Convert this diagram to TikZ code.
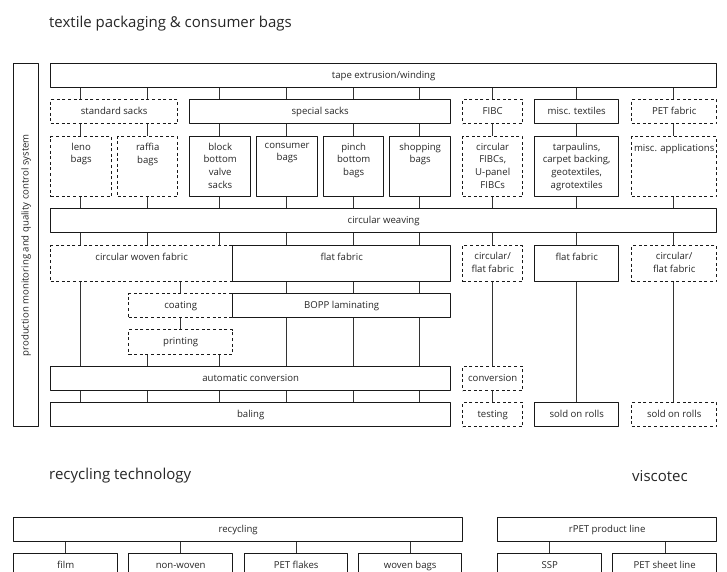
\documentclass[tikz,border=0pt]{standalone}
\usepackage{fontspec}
\setmainfont{Open Sans}
\begin{document}
\begin{tikzpicture}[x=1pt,y=-1pt, line join=round,
	sbox/.style={draw, line width=1.35pt, black!90},
	dbox/.style={draw, line width=1.35pt, black!90, dash pattern=on 3pt off 2.6pt},
	bx/.style 2 args={minimum width=#1, minimum height=#2, anchor=north west, inner sep=0pt},
	txt/.style={anchor=north, inner sep=0pt, yshift=-6.6pt, align=center, text=black!85, font=\fontsize{9.6}{12.9}\selectfont, execute at begin node=\strut},
	link/.style={line width=1pt, black!80},
	head/.style={anchor=west, inner sep=0pt, text=black!85, font=\fontsize{15}{18}\selectfont}]
	\useasboundingbox (0,0) rectangle (727,571);
	\clip (0,0) rectangle (727,571);
	% headings
	\node[head] (ttlA) at (49,24) {textile packaging \& consumer bags};
	\node[head] (ttlB) at (49,476) {recycling technology};
	\node[head] (ttlC) at (632,476) {viscotec};
	% columns of the connectors
	\foreach \n/\x in {1/80,2/147,3/219,4/286,5/353,6/419,7/492,8/576,9/673,10/180}
		\coordinate (c\n) at (\x,0);
	\foreach \n/\x in {1/65,2/180,3/296,4/410,5/549,6/665}
		\coordinate (r\n) at (\x,0);
	% side bar
	\node[sbox, bx={25}{363}] (side) at (13,63) {};
	\node[rotate=90, inner sep=0pt, text=black!85, font=\fontsize{9.6}{12.9}\selectfont] (sidet) at (side.center) {production monitoring and quality control system};
	% dashed boxes first
	\node[dbox, bx={127}{24}, label={[txt]north:standard sacks}] (std) at (50,99) {};
	\node[dbox, bx={60}{24}, label={[txt]north:FIBC}] (fibc) at (462,99) {};
	\node[dbox, bx={85}{24}, label={[txt]north:PET fabric}] (petfab) at (631,99) {};
	\node[dbox, bx={61}{60}, label={[txt]north:{leno\\bags}}] (leno) at (50,136) {};
	\node[dbox, bx={60}{60}, label={[txt]north:{raffia\\bags}}] (raffia) at (117,136) {};
	\node[dbox, bx={60}{60}, label={[txt]north:{circular\\FIBCs,\\U-panel\\FIBCs}}] (cfibc) at (462,136) {};
	\node[dbox, bx={85}{60}, label={[txt]north:misc. applications}] (miscapp) at (631,136) {};
	\node[dbox, bx={182}{36}, label={[txt]north:circular woven fabric}] (cwf) at (50,245) {};
	\node[dbox, bx={60}{36}, label={[txt]north:{circular/\\flat fabric}}] (cff) at (462,245) {};
	\node[dbox, bx={85}{36}, label={[txt]north:{circular/\\flat fabric}}] (cffb) at (631,245) {};
	\node[dbox, bx={104}{24}, label={[txt]north:coating}] (coat) at (128,293) {};
	\node[dbox, bx={104}{25}, label={[txt]north:printing}] (print) at (128,329) {};
	\node[dbox, bx={60}{24}, label={[txt]north:conversion}] (conv) at (462,366) {};
	\node[dbox, bx={60}{24}, label={[txt]north:testing}] (test) at (462,402) {};
	\node[dbox, bx={85}{24}, label={[txt]north:sold on rolls}] (soldb) at (631,402) {};
	% solid boxes
	\node[sbox, bx={666}{24}, label={[txt]north:tape extrusion/winding}] (tape) at (50,63) {};
	\node[sbox, bx={261}{24}, label={[txt]north:special sacks}] (special) at (189,99) {};
	\node[sbox, bx={84}{24}, label={[txt]north:misc. textiles}] (misctex) at (534,99) {};
	\node[sbox, bx={61}{60}, label={[txt]north:{block\\bottom\\valve\\sacks}}] (block) at (189,136) {};
	\node[sbox, bx={61}{60}, label={[txt]north:{consumer\\bags}}] (consum) at (256,136) {};
	\node[sbox, bx={60}{60}, label={[txt]north:{pinch\\bottom\\bags}}] (pinch) at (323,136) {};
	\node[sbox, bx={61}{60}, label={[txt]north:{shopping\\bags}}] (shop) at (389,136) {};
	\node[sbox, bx={84}{60}, label={[txt]north:{tarpaulins,\\carpet backing,\\geotextiles,\\agrotextiles}}] (tarp) at (534,136) {};
	\node[sbox, bx={666}{24}, label={[txt]north:circular weaving}] (weave) at (50,208) {};
	\node[sbox, bx={218}{36}, label={[txt]north:flat fabric}] (flat) at (232,245) {};
	\node[sbox, bx={84}{36}, label={[txt]north:flat fabric}] (flatb) at (534,245) {};
	\node[sbox, bx={218}{24}, label={[txt]north:BOPP laminating}] (bopp) at (232,293) {};
	\node[sbox, bx={400}{24}, label={[txt]north:automatic conversion}] (auto) at (50,366) {};
	\node[sbox, bx={400}{24}, label={[txt]north:baling}] (bale) at (50,402) {};
	\node[sbox, bx={84}{24}, label={[txt]north:sold on rolls}] (sold) at (534,402) {};
	% recycling and viscotec
	\node[sbox, bx={449}{24}, label={[txt]north:recycling}] (recyc) at (13,517) {};
	\node[sbox, bx={104}{40}, label={[txt]north:film}] (film) at (13,553) {};
	\node[sbox, bx={104}{40}, label={[txt]north:non-woven}] (nonwov) at (128,553) {};
	\node[sbox, bx={103}{40}, label={[txt]north:PET flakes}] (flakes) at (244,553) {};
	\node[sbox, bx={103}{40}, label={[txt]north:woven bags}] (woven) at (358,553) {};
	\node[sbox, bx={219}{24}, label={[txt]north:rPET product line}] (rpet) at (497,517) {};
	\node[sbox, bx={104}{40}, label={[txt]north:SSP}] (ssp) at (497,553) {};
	\node[sbox, bx={104}{40}, label={[txt]north:PET sheet line}] (sheet) at (612,553) {};
	% connectors
	\foreach \a/\b/\c in {tape/std/c1, tape/std/c2, tape/special/c3, tape/special/c4, tape/special/c5, tape/special/c6,
			tape/fibc/c7, tape/misctex/c8, tape/petfab/c9,
			std/leno/c1, std/raffia/c2, special/block/c3, special/consum/c4, special/pinch/c5, special/shop/c6,
			fibc/cfibc/c7, misctex/tarp/c8, petfab/miscapp/c9,
			leno/weave/c1, raffia/weave/c2, block/weave/c3, consum/weave/c4, pinch/weave/c5, shop/weave/c6,
			cfibc/weave/c7, tarp/weave/c8, miscapp/weave/c9,
			weave/cwf/c1, weave/cwf/c2, weave/cwf/c3, weave/flat/c4, weave/flat/c5, weave/flat/c6,
			weave/cff/c7, weave/flatb/c8, weave/cffb/c9,
			cwf/coat/c10, coat/print/c10, cwf/auto/c1, print/auto/c2, print/auto/c3,
			flat/bopp/c4, flat/bopp/c5, flat/bopp/c6, bopp/auto/c4, bopp/auto/c5, bopp/auto/c6,
			auto/bale/c1, auto/bale/c2, auto/bale/c3, auto/bale/c4, auto/bale/c5, auto/bale/c6,
			cff/conv/c7, conv/test/c7, flatb/sold/c8, cffb/soldb/c9,
			recyc/film/r1, recyc/nonwov/r2, recyc/flakes/r3, recyc/woven/r4, rpet/ssp/r5, rpet/sheet/r6}
		\draw[link] (\a.south -| \c) -- (\b.north -| \c);
\end{tikzpicture}
\end{document}
